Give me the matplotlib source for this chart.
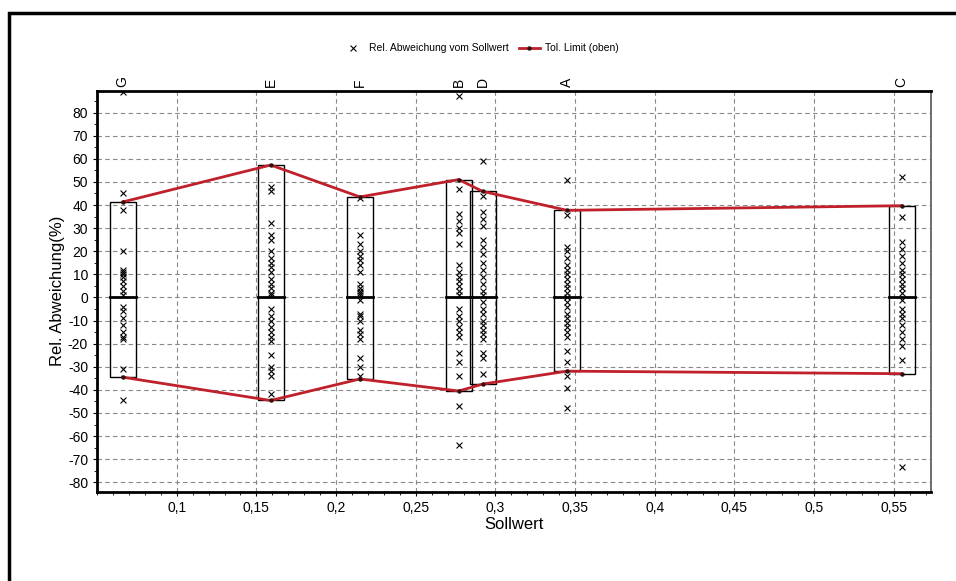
import numpy as np
import matplotlib
matplotlib.use("Agg")
from matplotlib import pyplot as plt
from matplotlib.patches import Rectangle
from matplotlib.ticker import MultipleLocator, FuncFormatter

plt.rcParams['font.family'] = ['Liberation Sans', 'DejaVu Sans']
plt.rcParams['axes.unicode_minus'] = False

# Kategorien und Sollwerte
kategorien = ['G', 'E', 'F', 'B', 'D', 'A', 'C']
sollwerte = [0.066, 0.159, 0.215, 0.277, 0.292, 0.345, 0.555]

# Toleranzgrenzen (%)
tol_oben = [41.3, 57.3, 43.5, 51.0, 45.9, 37.7, 39.7]
tol_unten = [-34.5, -44.6, -35.3, -40.5, -37.5, -31.9, -33.0]

# Relative Abweichungen (%) je Kategorie
abw_G = [89, 45, 38, 20, 12, 11, 10, 9, 7, 5, 3, 1, -4, -6, -9, -12, -15, -17, -18, -31, -44.6]
abw_E = [48, 46, 32, 27, 25, 20, 17, 15, 13, 11, 8, 6, 4, 2, 1, -5, -8, -10, -13, -15, -17, -19,
         -25, -30, -32, -34, -42]
abw_F = [43, 27, 23, 20, 18, 16, 14, 11, 6, 4, 3, 2, 1, -1, -7, -8, -10, -14, -16, -18, -26, -30, -34]
abw_B = [87, 47, 36, 33, 30, 28, 23, 14, 11, 9, 7, 5, 3, 1, -5, -8, -10, -13, -15, -17, -24, -28,
         -34, -47, -64]
abw_D = [59, 44, 37, 34, 31, 25, 22, 19, 15, 12, 9, 6, 3, 1, -2, -5, -7, -10, -12, -14, -16, -18,
         -24, -26, -33]
abw_A = [51, 35.5, 22, 20, 17, 14, 12, 10, 8, 6, 4, 2, 0, -2, -4, -7, -9, -11, -13, -15, -17, -23,
         -28, -34, -39, -48]
abw_C = [52, 35, 24, 21, 18, 15, 12, 10, 8, 6, 4, 2, -1, -5, -7, -9, -12, -15, -18, -21, -27, -73.5]
abweichungen = [abw_G, abw_E, abw_F, abw_B, abw_D, abw_A, abw_C]

fig = plt.figure(figsize=(9.56, 5.81), dpi=100)
ax = fig.add_axes([0.1015, 0.154, 0.8725, 0.690])

# Rahmen um die Grafik (nur links und oben sichtbar)
fig.patches.append(Rectangle((9 / 956, -0.1), 1.2, 1 - 13 / 581 + 0.1, transform=fig.transFigure,
                             fill=False, edgecolor='black', linewidth=2.5))

red = '#c0202a'
breite = 0.0163

# Boxen mit Null-Linie
for x, o, u in zip(sollwerte, tol_oben, tol_unten):
    ax.add_patch(Rectangle((x - breite / 2, u), breite, o - u, fill=False,
                           edgecolor='black', linewidth=1.0, zorder=3))
    ax.plot([x - breite / 2, x + breite / 2], [0, 0], color='black', linewidth=2, zorder=4)

# Messpunkte
for x, werte in zip(sollwerte, abweichungen):
    ax.scatter([x] * len(werte), werte, marker='x', color='black', s=18, linewidths=0.8,
               zorder=5, label='Rel. Abweichung vom Sollwert' if x == sollwerte[0] else None)

# Toleranzgrenzen
ax.plot(sollwerte, tol_oben, color=red, linewidth=2, marker='o', markersize=2.2,
        markerfacecolor='#301010', markeredgecolor='#301010', zorder=6, label='Tol. Limit (oben)')
ax.plot(sollwerte, tol_unten, color=red, linewidth=2, marker='o', markersize=2.2,
        markerfacecolor='#301010', markeredgecolor='#301010', zorder=6)

ax.set_xlim(0.05, 0.5735)
ax.set_ylim(-84, 89.5)
ax.xaxis.set_minor_locator(MultipleLocator(0.01))
ax.yaxis.set_minor_locator(MultipleLocator(5))
ax.set_xticks([t for t in np.arange(0.1, 0.56, 0.05)])
ax.set_yticks(np.arange(-80, 81, 10))
ax.xaxis.set_major_formatter(FuncFormatter(lambda v, p: ('%g' % round(v, 2)).replace('.', ',')))
ax.tick_params(axis='both', labelsize=10, length=3, color='black')
ax.tick_params(which='minor', length=2)
ax.grid(True, which='major', linestyle=(0, (4, 3)), color='#888888', linewidth=0.8)

for side in ['left', 'top', 'bottom']:
    ax.spines[side].set_linewidth(2)
ax.spines['right'].set_linewidth(1.2)
ax.spines['right'].set_color('#555555')

ax.set_xlabel('Sollwert', fontsize=12, labelpad=2)
ax.set_ylabel('Rel. Abweichung(%)', fontsize=12, labelpad=2)

# Kategorie-Beschriftungen oben
for x, k in zip(sollwerte, kategorien):
    ax.text(x, 1.01, k, rotation=90, ha='center', va='bottom', fontsize=10,
            transform=ax.get_xaxis_transform())

fig.legend(loc='center', bbox_to_anchor=(0.503, 0.917), ncol=2, frameon=False, fontsize=7.5,
           handlelength=2, columnspacing=1.0, handletextpad=0.5)

fig.savefig('out.png', dpi=100)
